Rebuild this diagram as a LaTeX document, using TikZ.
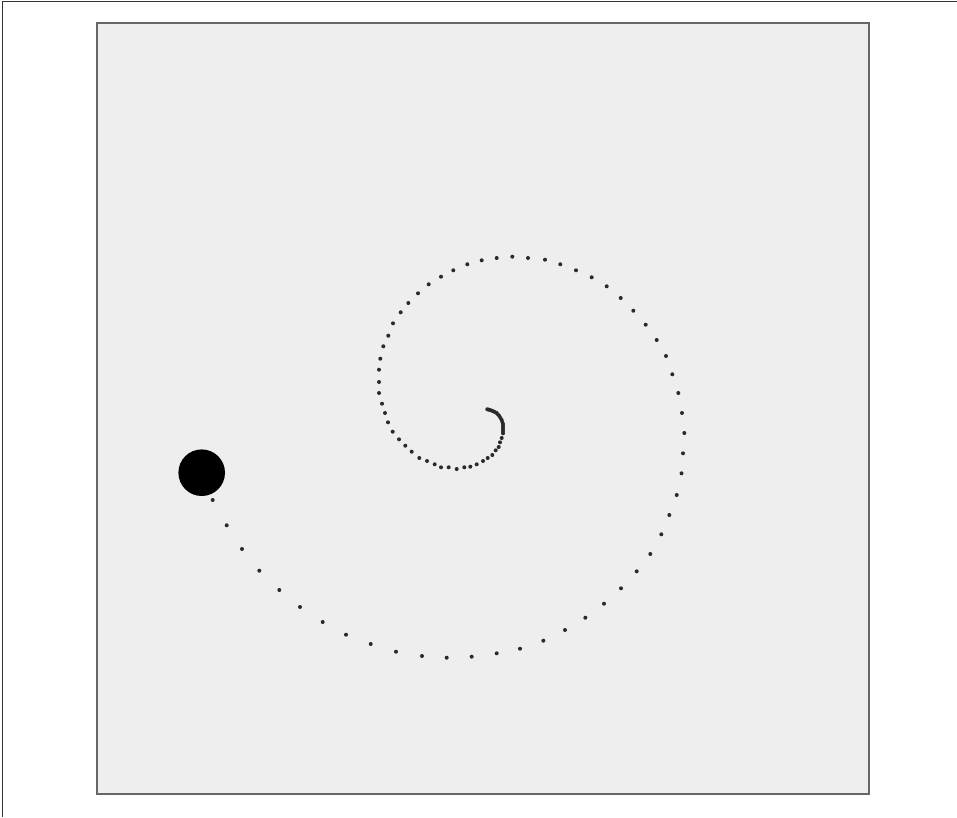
\documentclass[tikz,border=0pt]{standalone}
\usepackage{xcolor}
\definecolor{panel}{HTML}{EEEEEE}
\definecolor{panelborder}{HTML}{666666}
\definecolor{dotc}{HTML}{2A2A2A}
\begin{document}
\begin{tikzpicture}[x=1pt,y=-1pt,
  spiraldot/.style={fill=dotc},
  panelbox/.style={fill=panel,draw=panelborder,line width=2.4pt}]
\useasboundingbox (0,0) rectangle (957,817);
\draw[black!80,line width=0.9pt] (2,817) -- (2,1) -- (957,1);
\draw[panelbox] (97,23) rectangle (869,794);
\foreach \x/\y in {
512.3/256.7, 528/258, 545/259.7, 560.3/264.3, 576/270.3, 591.7/277.3, 606.7/286.3,
620.7/298, 633.3/310.7, 645.7/324.7, 656.7/340, 666/356, 672.3/374.3, 678.3/393,
682/413, 684.3/433, 683/453.3, 681.5/473.3, 676.7/495, 669.3/515, 661.3/534.3,
650.3/554, 636.7/571.3, 621/588.3, 604/603.7, 585.3/617.7, 565/630, 543.3/640.7,
520/648.7, 496.7/653.3, 471.7/656.7, 446.7/657.7, 422/656, 396/651.7, 370.7/644,
346/634.7, 322.7/622, 300/607, 279.3/590, 259.3/570.7, 242/549, 226.7/525.3, 212.7/500,
496.7/258, 481.7/260.3, 467.3/264.3, 453.3/270.3, 441/276.7, 428.7/284.3, 418/293.3,
408.3/303, 400.7/312.3, 393/323.3, 388.3/335.7, 383.3/346.3, 380.3/358.7, 379/369.7,
379/382, 379/393, 382/403.7, 385/413, 388/422.3, 392.7/431.7, 399/439.3, 405.3/445.7,
411.7/451.7, 419.3/458, 427/461, 434.7/464.3, 441/467.3, 448.7/467.3, 456.7/469,
464.3/467.3, 470.3/466.7, 476.7/464.3, 483/461, 487.7/458, 492.3/455, 495.7/450.3,
498.7/447, 500/442.3, 501.7/438, 503/433.3, 503/431, 503/428.7, 503/426.3, 503/424,
502.3/422, 501.7/420, 500.5/418, 499.3/416, 498/414.5, 496.7/413, 495/412.1, 493.3/411.3,
491.7/410.6, 490/410, 488.7/409.6, 487.3/409.3}
  \fill[spiraldot] (\x,\y) circle (2.0);
\fill[black] (201.7,472.7) circle (23.3);
\end{tikzpicture}
\end{document}
